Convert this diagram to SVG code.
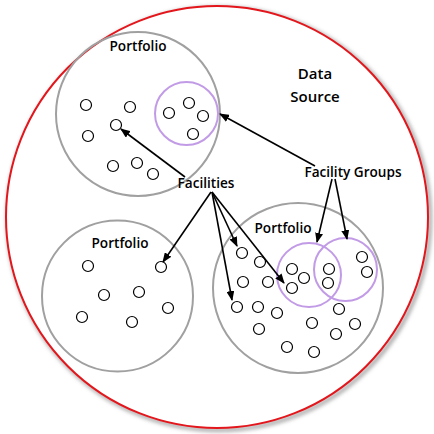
<svg xmlns="http://www.w3.org/2000/svg" width="434" height="434" viewBox="0 0 434 434">
<style>
.port{fill:none;stroke:#a0a0a0;stroke-width:2}
.grp{fill:none;stroke:#c29be6;stroke-width:2}
.f{fill:#fff;stroke:#000;stroke-width:1.2}
.lbl{font-family:"Open Sans",sans-serif;font-weight:600;font-size:13.6px;fill:#000;text-anchor:middle}
.big{font-family:"Open Sans",sans-serif;font-weight:600;font-size:15px;fill:#000;text-anchor:middle}
.ar{stroke:#000;stroke-width:1.6;fill:none;marker-end:url(#ah)}
</style>
<defs>
<marker id="ah" viewBox="0 0 10 8" refX="9" refY="4" markerWidth="10" markerHeight="8" markerUnits="userSpaceOnUse" orient="auto">
<path d="M0,0 L10,4 L0,8 z" fill="#000"/>
</marker>
<filter id="sh" x="-10%" y="-10%" width="120%" height="120%">
<feGaussianBlur stdDeviation="2"/>
</filter>
</defs>
<rect width="434" height="434" fill="#fff"/>
<g id="datasource">
<circle cx="219" cy="219" r="211" fill="none" stroke="#888" stroke-width="3" filter="url(#sh)"/>
<circle cx="217" cy="217" r="211" fill="#fff" stroke="#e3161c" stroke-width="2"/>
<text class="big" x="315" y="79">Data</text>
<text class="big" x="315" y="102">Source</text>
</g>
<g id="portfolio1">
<circle class="port" cx="138" cy="114" r="82"/>
<text class="lbl" x="138" y="51">Portfolio</text>
<circle class="f" cx="86" cy="105" r="5.5"/>
<circle class="f" cx="130" cy="107" r="5.5"/>
<circle class="f" cx="116" cy="125" r="5.5"/>
<circle class="f" cx="88" cy="136" r="5.5"/>
<circle class="f" cx="113" cy="166" r="5.5"/>
<circle class="f" cx="137" cy="163" r="5.5"/>
<circle class="f" cx="153" cy="174" r="5.5"/>
</g>
<g id="group1">
<circle class="grp" cx="186.5" cy="113.5" r="31.5"/>
<circle class="f" cx="169" cy="113" r="5.5"/>
<circle class="f" cx="189" cy="103" r="5.5"/>
<circle class="f" cx="203" cy="116" r="5.5"/>
<circle class="f" cx="193" cy="134" r="5.5"/>
</g>
<g id="portfolio2">
<circle class="port" cx="117.5" cy="296" r="75.5"/>
<text class="lbl" x="120" y="248">Portfolio</text>
<circle class="f" cx="88" cy="266" r="5.5"/>
<circle class="f" cx="161" cy="267" r="5.5"/>
<circle class="f" cx="104" cy="295" r="5.5"/>
<circle class="f" cx="139" cy="292" r="5.5"/>
<circle class="f" cx="168" cy="308" r="5.5"/>
<circle class="f" cx="82" cy="317" r="5.5"/>
<circle class="f" cx="132" cy="322" r="5.5"/>
</g>
<g id="portfolio3">
<circle class="port" cx="298" cy="288" r="85"/>
<text class="lbl" x="283" y="233">Portfolio</text>
<circle class="f" cx="242" cy="253" r="5.5"/>
<circle class="f" cx="260" cy="262" r="5.5"/>
<circle class="f" cx="243" cy="282" r="5.5"/>
<circle class="f" cx="268" cy="282" r="5.5"/>
<circle class="f" cx="362" cy="257" r="5.5"/>
<circle class="f" cx="367" cy="272" r="5.5"/>
<circle class="f" cx="237" cy="307" r="5.5"/>
<circle class="f" cx="258" cy="307" r="5.5"/>
<circle class="f" cx="277" cy="313" r="5.5"/>
<circle class="f" cx="259" cy="329" r="5.5"/>
<circle class="f" cx="312" cy="323" r="5.5"/>
<circle class="f" cx="339" cy="309" r="5.5"/>
<circle class="f" cx="355" cy="324" r="5.5"/>
<circle class="f" cx="336" cy="334" r="5.5"/>
<circle class="f" cx="287" cy="347" r="5.5"/>
<circle class="f" cx="314" cy="352" r="5.5"/>
</g>
<g id="group2">
<circle class="grp" cx="309" cy="275" r="32"/>
<circle class="f" cx="292" cy="269" r="5.5"/>
<circle class="f" cx="304" cy="278" r="5.5"/>
<circle class="f" cx="292" cy="288" r="5.5"/>
<circle class="f" cx="329" cy="269" r="5.5"/>
<circle class="f" cx="328" cy="283" r="5.5"/>
</g>
<g id="group3">
<circle class="grp" cx="345.5" cy="269.5" r="31.5"/>
</g>
<g id="facilities">
<text class="lbl" x="206" y="188">Facilities</text>
</g>
<g id="facilitygroups">
<text class="lbl" x="353" y="177">Facility Groups</text>
</g>
<g id="connectors">
<line class="ar" x1="185" y1="177" x2="121" y2="129"/>
<line class="ar" x1="211" y1="192" x2="163" y2="262"/>
<line class="ar" x1="212" y1="192" x2="232" y2="300"/>
<line class="ar" x1="212" y1="192" x2="237" y2="246"/>
<line class="ar" x1="212" y1="192" x2="284" y2="283"/>
<line class="ar" x1="315" y1="166" x2="220" y2="114"/>
<line class="ar" x1="332" y1="179" x2="317" y2="242"/>
<line class="ar" x1="335" y1="179" x2="347" y2="239"/>
</g>
</svg>
